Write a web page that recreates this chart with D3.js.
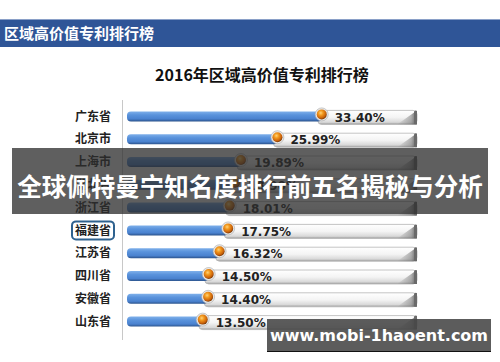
<!DOCTYPE html>
<html><head><meta charset="utf-8">
<script src="https://cdn.jsdelivr.net/npm/d3@7/dist/d3.min.js"></script>
<style>
html,body{margin:0;padding:0;background:#fff;}
svg{display:block;}
</style></head>
<body><svg id="c" width="500" height="362"></svg>
<script>
const headerText = "区域高价值专利排行榜";
const chartTitle = "2016年区域高价值专利排行榜";
const overlayText = "全球佩特曼宁知名度排行前五名揭秘与分析";
const watermarkText = "www.mobi-1haoent.com";
const categories = ["广东省","北京市","上海市","湖北省","浙江省","福建省","江苏省","四川省","安徽省","山东省"];
const values = [33.40, 25.99, 19.89, 18.90, 18.01, 17.75, 16.32, 14.50, 14.40, 13.50];
const highlighted = ["福建省"];

const svg = d3.select("#c");
const defs = svg.append("defs");
const CJK = "'Noto Sans CJK SC','Noto Sans',sans-serif";

// gradients
const gBar = defs.append("linearGradient").attr("id","gBar").attr("x1",0).attr("y1",0).attr("x2",0).attr("y2",1);
[[0,"#7fb0ea"],[0.35,"#5a93dc"],[0.75,"#4a82cf"],[1,"#2b538c"]].forEach(s=>gBar.append("stop").attr("offset",s[0]).attr("stop-color",s[1]));
const gTrack = defs.append("linearGradient").attr("id","gTrack").attr("x1",0).attr("y1",0).attr("x2",0).attr("y2",1);
[[0,"#ffffff"],[0.5,"#f4f4f4"],[0.85,"#d8d8d8"],[1,"#9a9a9a"]].forEach(s=>gTrack.append("stop").attr("offset",s[0]).attr("stop-color",s[1]));
const gEnd = defs.append("linearGradient").attr("id","gEnd").attr("x1",0).attr("y1",0).attr("x2",1).attr("y2",0);
[[0,"rgba(120,120,120,0)"],[0.7,"rgba(120,120,120,0.55)"],[1,"rgba(70,70,70,0.9)"]].forEach(s=>gEnd.append("stop").attr("offset",s[0]).attr("stop-color",s[1]));
const gKnob = defs.append("radialGradient").attr("id","gKnob").attr("cx","40%").attr("cy","35%").attr("r","65%");
[[0,"#ffd27a"],[0.35,"#f39a1e"],[0.8,"#c8600a"],[1,"#7a3a05"]].forEach(s=>gKnob.append("stop").attr("offset",s[0]).attr("stop-color",s[1]));

// header band
svg.append("rect").attr("x",0).attr("y",19).attr("width",500).attr("height",28).attr("fill","#2f5597");
svg.append("line").attr("x1",0).attr("x2",500).attr("y1",19.5).attr("y2",19.5).attr("stroke","#8aa0c8");
svg.append("text").attr("x",4).attr("y",38.5).attr("fill","#fff").attr("font-family",CJK)
  .attr("font-weight","bold").attr("font-size",15).text(headerText);

// title
svg.append("text").attr("x",262).attr("y",81).attr("text-anchor","middle").attr("fill","#111")
  .attr("font-family",CJK).attr("font-weight","bold").attr("font-size",16).text(chartTitle);

// scales
const x = d3.scaleLinear().domain([0,50]).range([122,421]);
const y = d3.scaleBand().domain(categories).range([105,333]).padding(0);
const cy = c => y(c) + y.bandwidth()/2;
const trackEnd = 417;

// axis line
svg.append("line").attr("x1",122.5).attr("x2",122.5).attr("y1",100).attr("y2",340).attr("stroke","#c8c8c8");

// category labels via axis
const yAxis = d3.axisLeft(y).tickSize(0).tickPadding(0);
const ag = svg.append("g").attr("transform","translate(111,0)").call(yAxis);
ag.select(".domain").remove();
ag.selectAll("text").attr("font-family",CJK).attr("font-size",12).attr("font-weight","600").attr("fill","#222").attr("dy","0.35em");

// highlight box
highlighted.forEach(c=>{
  svg.append("rect").attr("x",72).attr("y",cy(c)-9).attr("width",42).attr("height",18).attr("rx",4)
    .attr("fill","none").attr("stroke","#2f628f").attr("stroke-width",2);
});

const data = categories.map((c,i)=>({c, v: values[i]}));
const rows = svg.append("g").selectAll("g").data(data).join("g");

// tracks
rows.append("rect").attr("x",d=>x(d.v)-4).attr("y",d=>cy(d.c)-6).attr("width",d=>trackEnd-(x(d.v)-4)).attr("height",14)
  .attr("rx",4).attr("fill","url(#gTrack)").attr("stroke","#b5b5b5").attr("stroke-width",0.8);
rows.append("path").attr("d",d=>{const yy=cy(d.c);return `M${trackEnd-20},${yy+8} L${trackEnd},${yy-6} L${trackEnd},${yy+8} Z`;})
  .attr("fill","url(#gEnd)");
rows.append("rect").attr("x",trackEnd-3).attr("y",d=>cy(d.c)-6).attr("width",3).attr("height",14).attr("rx",1.5).attr("fill","#6a6a6a");

// bars
rows.append("rect").attr("x",127).attr("y",d=>cy(d.c)-5).attr("width",d=>x(d.v)-127).attr("height",10)
  .attr("rx",4).attr("fill","url(#gBar)");

// knobs
rows.append("circle").attr("cx",d=>x(d.v)).attr("cy",d=>cy(d.c)-2).attr("r",6.5).attr("fill","#e8e8e8").attr("stroke","#aaa").attr("stroke-width",0.6);
rows.append("circle").attr("cx",d=>x(d.v)).attr("cy",d=>cy(d.c)-2).attr("r",5).attr("fill","url(#gKnob)");

// value labels
rows.append("text").attr("x",d=>x(d.v)+13).attr("y",d=>cy(d.c)+1).attr("dy","0.35em")
  .attr("font-family","'DejaVu Sans',sans-serif").attr("font-weight","bold").attr("font-size",12).attr("fill","#222")
  .text(d=>d.v.toFixed(2)+"%");

// overlay band
svg.append("rect").attr("x",12).attr("y",148).attr("width",476).attr("height",66).attr("fill","rgba(45,45,45,0.76)");
svg.append("text").attr("x",250).attr("y",187).attr("dy","0.35em").attr("text-anchor","middle").attr("fill","#fff")
  .attr("font-family",CJK).attr("font-weight","bold").attr("font-size",24.5).text(overlayText);

// watermark
svg.append("rect").attr("x",267).attr("y",319).attr("width",224).attr("height",33).attr("fill","rgba(70,70,70,0.88)");
svg.append("line").attr("x1",267).attr("x2",491).attr("y1",351.5).attr("y2",351.5).attr("stroke","#111");
svg.append("text").attr("x",379).attr("y",335).attr("dy","0.35em").attr("text-anchor","middle").attr("fill","#fff")
  .attr("font-family","'DejaVu Sans',sans-serif").attr("font-weight","bold").attr("font-size",16).text(watermarkText);
</script>
</body></html>
